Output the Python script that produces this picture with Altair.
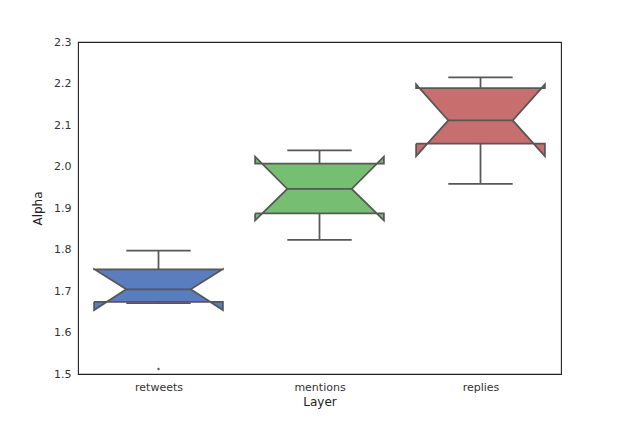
import altair as alt
import pandas as pd

layers = ["retweets", "mentions", "replies"]
whisk_lo = [1.671, 1.823, 1.958]
q1 = [1.674, 1.887, 2.055]
notch_lo = [1.654, 1.870, 2.025]
median = [1.704, 1.946, 2.111]
notch_hi = [1.753, 2.024, 2.198]
q3 = [1.752, 2.007, 2.189]
whisk_hi = [1.797, 2.039, 2.215]
outlier_layer = ["retweets"]
outlier_val = [1.512]
colors = ["#597DBE", "#76BF72", "#C76E6E"]

LINE = "#575757"
HALF = 0.4
WAIST = 0.2

stats = pd.DataFrame({
    "layer": layers, "pos": list(range(len(layers))),
    "wlo": whisk_lo, "q1": q1, "nlo": notch_lo, "med": median,
    "nhi": notch_hi, "q3": q3, "whi": whisk_hi,
})
stats["capL"] = stats["pos"] - WAIST
stats["capR"] = stats["pos"] + WAIST

rows = []
for _, r in stats.iterrows():
    c = r["pos"]
    verts = [
        (c - HALF, r["q1"]), (c - HALF, r["nlo"]), (c - WAIST, r["med"]),
        (c - HALF, r["nhi"]), (c - HALF, r["q3"]), (c + HALF, r["q3"]),
        (c + HALF, r["nhi"]), (c + WAIST, r["med"]), (c + HALF, r["nlo"]),
        (c + HALF, r["q1"]), (c - HALF, r["q1"]),
    ]
    for i, (x, y) in enumerate(verts):
        rows.append({"layer": r["layer"], "x": x, "y": y, "k": i})
poly = pd.DataFrame(rows)

out = pd.DataFrame({"layer": outlier_layer, "val": outlier_val})
out["pos"] = out["layer"].map({l: i for i, l in enumerate(layers)})

label_expr = "[" + ",".join("'%s'" % l for l in layers) + "][datum.value]"
xscale = alt.Scale(domain=[-0.5, len(layers) - 0.5], nice=False, zero=False)
yscale = alt.Scale(domain=[1.5, 2.3], nice=False, zero=False)
xaxis = alt.Axis(title="Layer", values=list(range(len(layers))), labelExpr=label_expr,
                 ticks=False, grid=False, domain=False, labelPadding=7,
                 titlePadding=4)
yaxis = alt.Axis(title="Alpha", values=[1.5 + 0.1 * i for i in range(9)], format=".1f",
                 ticks=False, grid=False, domain=False, labelPadding=7, titlePadding=9)

boxes = alt.Chart(poly).mark_line(stroke=LINE, strokeWidth=1.75, strokeJoin="miter").encode(
    x=alt.X("x:Q", scale=xscale, axis=xaxis),
    y=alt.Y("y:Q", scale=yscale, axis=yaxis),
    fill=alt.Fill("layer:N", scale=alt.Scale(domain=layers, range=colors), legend=None),
    detail="layer:N",
    order="k:Q",
)

base = alt.Chart(stats)
w_hi = base.mark_rule(color=LINE, strokeWidth=1.75).encode(
    x=alt.X("pos:Q", scale=xscale), y=alt.Y("q3:Q", scale=yscale), y2="whi:Q")
w_lo = base.mark_rule(color=LINE, strokeWidth=1.75).encode(
    x=alt.X("pos:Q", scale=xscale), y=alt.Y("q1:Q", scale=yscale), y2="wlo:Q")
cap_hi = base.mark_rule(color=LINE, strokeWidth=1.75).encode(
    x=alt.X("capL:Q", scale=xscale), x2="capR:Q", y=alt.Y("whi:Q", scale=yscale))
cap_lo = base.mark_rule(color=LINE, strokeWidth=1.75).encode(
    x=alt.X("capL:Q", scale=xscale), x2="capR:Q", y=alt.Y("wlo:Q", scale=yscale))
med = base.mark_rule(color=LINE, strokeWidth=1.75).encode(
    x=alt.X("capL:Q", scale=xscale), x2="capR:Q", y=alt.Y("med:Q", scale=yscale))
pts = alt.Chart(out).mark_point(shape="diamond", filled=True, color=LINE, size=10, opacity=1).encode(
    x=alt.X("pos:Q", scale=xscale), y=alt.Y("val:Q", scale=yscale))

chart = alt.layer(boxes, w_hi, w_lo, cap_hi, cap_lo, med, pts).properties(
    width=483, height=332,
    background="white",
    autosize=alt.AutoSizeParams(type="none"),
    padding={"left": 70, "top": 34, "right": 40, "bottom": 40},
).configure_view(stroke="#222", strokeWidth=1.1).configure_axis(
    labelFont="DejaVu Sans", titleFont="DejaVu Sans", labelFontSize=11,
    titleFontSize=12, titleFontWeight="normal", labelColor="#333", titleColor="#222",
)

chart.save("out.html", embed_options={"renderer": "svg", "actions": False})
